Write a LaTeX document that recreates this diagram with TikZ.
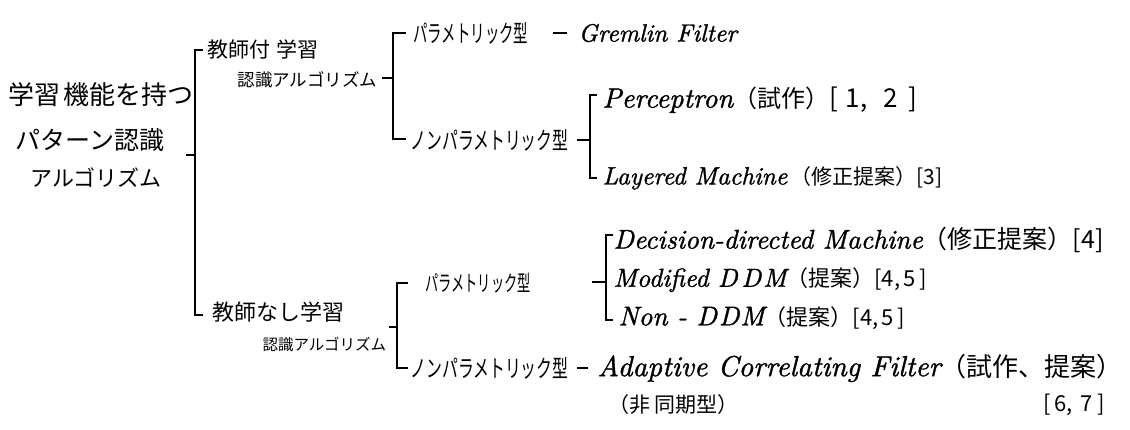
\documentclass[tikz,border=0pt]{standalone}
\usepackage{fontspec}
\newfontfamily\jp{Noto Sans CJK JP}
\newfontfamily\jpa[FakeStretch=0.6]{Noto Sans CJK JP}
\newfontfamily\jpb[FakeStretch=0.66]{Noto Sans CJK JP}
\newfontfamily\enf[FakeBold=1.2]{lmroman10-italic.otf}
\newcommand\jpz[2]{{\jp\fontsize{#1}{#1}\selectfont #2}}
\begin{document}
\begin{tikzpicture}[x=1pt,y=-1pt,line width=1.1pt,
  lbl/.style={inner sep=0pt,anchor=west},
  ja/.style={lbl,font=\jp\fontsize{#1}{#1}\selectfont},
  jk/.style={lbl,font=\jpa\fontsize{#1}{#1}\selectfont},
  jn/.style={lbl,font=\jpb\fontsize{#1}{#1}\selectfont},
  en/.style={lbl,font=\enf\fontsize{#1}{#1}\selectfont},
  brk/.style={draw=black,line width=1.1pt},
  tick/.style={draw=black,line width=1.4pt}]
\useasboundingbox (0,0) rectangle (1130,429);
% root
\node[ja=26] (r1) at (8,95) {学習\hspace{3pt}機能を持つ};
\node[ja=25] (r2) at (15,140) {パターン認識};
\node[ja=22] (r3) at (30,178) {アルゴリズム};
% level 2
\node[ja=21] (s1) at (207,49) {教師付\hspace{6pt}学習};
\node[ja=17.5] (s2) at (237,80) {認識アルゴリズム};
\node[ja=22] (u1) at (212,312) {教師なし学習};
\node[ja=15.5] (u2) at (262,345) {認識アルゴリズム};
% level 3
\node[jk=24] (p1) at (413,33) {パラメトリック型};
\node[jn=24] (n1) at (410,140) {ノンパラメトリック型};
\node[jk=22] (p2) at (425,283) {パラメトリック型};
\node[jn=24] (n2) at (410,368) {ノンパラメトリック型};
% leaves
\node[en=25] (gf) at (578,33) {Gremlin Filter};
\node[en=28] (pc) at (602,100) {Perceptron\jpz{24}{（試作）}\jpz{26}{[\hspace{8pt}1,\hspace{16pt}2\hspace{10pt}]}};
\node[en=25] (lm) at (602,178) {Layered Machine\hspace{3pt}\jpz{21}{（修正提案）[3]}};
\node[en=27] (dd) at (613,240) {Decision-directed Machine\jpz{25}{（修正提案）[4]}};
\node[en=26] (md) at (613,280) {Modified D\hspace{4pt}D\hspace{2pt}M\jpz{22}{（提案）[4,\hspace{3pt}5\hspace{4pt}]}};
\node[en=27] (nd) at (618,318) {Non - D\hspace{2pt}D\hspace{1pt}M\jpz{22}{（提案）[4,\hspace{3pt}5\hspace{4pt}]}};
\node[en=29] (ac) at (597,368) {Adaptive Correlating Filter\jpz{26}{（試作、提案）}};
\node[ja=21] (as) at (608,405) {（非\hspace{4pt}同期型）};
\node[lbl,anchor=east,font=\jp\fontsize{22}{22}\selectfont] (ar) at (1105,405) {[\hspace{4pt}6,\hspace{8pt}7\hspace{4pt}]};
% bracket 1 (root)
\coordinate (b1t) at (195,50); \coordinate (b1b) at (195,315); \coordinate (b1m) at (195,155);
\coordinate (b1i) at (186,155);
\draw[brk] (203,50) -- (b1t) -- (b1b) -- (203,315);
\draw[tick] (b1i) -- (b1m);
% bracket 2 (supervised)
\coordinate (b2t) at (393,33); \coordinate (b2b) at (393,139); \coordinate (b2m) at (393,78);
\coordinate (b2i) at (382,78);
\draw[brk] (406,33) -- (b2t) -- (b2b) -- (406,139);
\draw[tick] (b2i) -- (b2m);
% bracket 3 (unsupervised)
\coordinate (b3t) at (397,283); \coordinate (b3b) at (397,368); \coordinate (b3m) at (397,327);
\coordinate (b3i) at (389,327);
\draw[brk] (408,283) -- (b3t) -- (b3b) -- (408,368);
\draw[tick] (b3i) -- (b3m);
% bracket 4 (supervised nonparametric)
\coordinate (b4t) at (590,95); \coordinate (b4b) at (590,178); \coordinate (b4m) at (590,140);
\draw[brk] (597,95) -- (b4t) -- (b4b) -- (597,178);
\draw[tick] (577,140) -- (b4m);
% bracket 5 (unsupervised parametric)
\coordinate (b5t) at (606,235); \coordinate (b5b) at (606,320); \coordinate (b5m) at (606,282);
\draw[brk] (613,235) -- (b5t) -- (b5b) -- (613,320);
\draw[tick] (592,282) -- (b5m);
% single dashes
\draw[tick] (553,33) coordinate (d1a) -- (567,33) coordinate (d1b);
\draw[tick] ([xshift=8pt]n2.east) -- ([xshift=-9pt]ac.west);
\end{tikzpicture}
\end{document}
